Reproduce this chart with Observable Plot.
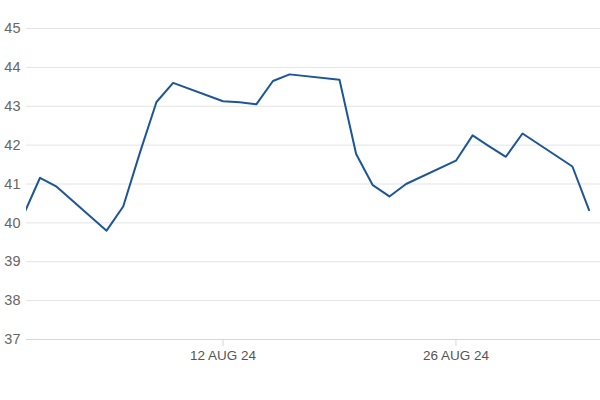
<!DOCTYPE html>
<html>
<head>
<meta charset="utf-8">
<script src="https://cdn.jsdelivr.net/npm/d3@7"></script>
<script src="https://cdn.jsdelivr.net/npm/@observablehq/plot@0.6"></script>
<style>
  html, body { margin: 0; padding: 0; background: #fff; }
  #chart { width: 600px; height: 400px; }
</style>
</head>
<body>
<div id="chart"></div>
<script>
const dates = [
  "2024-07-31","2024-08-01","2024-08-02","2024-08-05","2024-08-06","2024-08-07","2024-08-08","2024-08-09",
  "2024-08-12","2024-08-13","2024-08-14","2024-08-15","2024-08-16",
  "2024-08-19","2024-08-20","2024-08-21","2024-08-22","2024-08-23",
  "2024-08-26","2024-08-27","2024-08-28","2024-08-29","2024-08-30",
  "2024-09-02","2024-09-03"
];
const values = [
  40.2, 41.16, 40.93, 39.8, 40.42, 41.8, 43.11, 43.6,
  43.13, 43.1, 43.05, 43.65, 43.82,
  43.68, 41.77, 40.97, 40.68, 41.0,
  41.6, 42.25, 41.97, 41.7, 42.3,
  41.45, 40.33
];
const xTicks = ["2024-08-12", "2024-08-26"];
const yTicks = [37, 38, 39, 40, 41, 42, 43, 44, 45];

const data = dates.map((d, i) => ({date: new Date(d + "T00:00:00Z"), value: values[i]}));
const fmt = d3.utcFormat("%d %b %y");

const chart = Plot.plot({
  width: 600,
  height: 400,
  marginLeft: 26,
  marginRight: 0,
  marginTop: 28,
  marginBottom: 61,
  style: {fontFamily: "Liberation Sans, Arial, sans-serif", background: "#fff"},
  x: {
    type: "utc",
    domain: [new Date(Date.UTC(2024, 6, 31, 4, 30)), new Date(Date.UTC(2024, 8, 3, 16, 30))],
    ticks: xTicks.map(d => new Date(d + "T00:00:00Z")),
    tickFormat: d => fmt(d).toUpperCase(),
    label: null
  },
  y: {domain: [37, 45], ticks: yTicks, label: null},
  marks: [
    Plot.ruleY(yTicks.slice(1), {stroke: "#e3e3e3", strokeWidth: 1}),
    Plot.ruleY([37], {stroke: "#cfd9e3", strokeWidth: 1}),
    Plot.axisY({ticks: yTicks, tickSize: 0, tickPadding: 6, fontSize: 14.5, fill: "#666", label: null}),
    Plot.axisX({ticks: xTicks.map(d => new Date(d + "T00:00:00Z")), tickFormat: d => fmt(d).toUpperCase(),
      tickSize: 7, tickPadding: 4, stroke: "#cfd9e3", fontSize: 13.5, fill: "#555", label: null}),
    Plot.line(data, {x: "date", y: "value", stroke: "#1d5597", strokeWidth: 2, clip: true})
  ]
});
document.getElementById("chart").appendChild(chart);
</script>
</body>
</html>
